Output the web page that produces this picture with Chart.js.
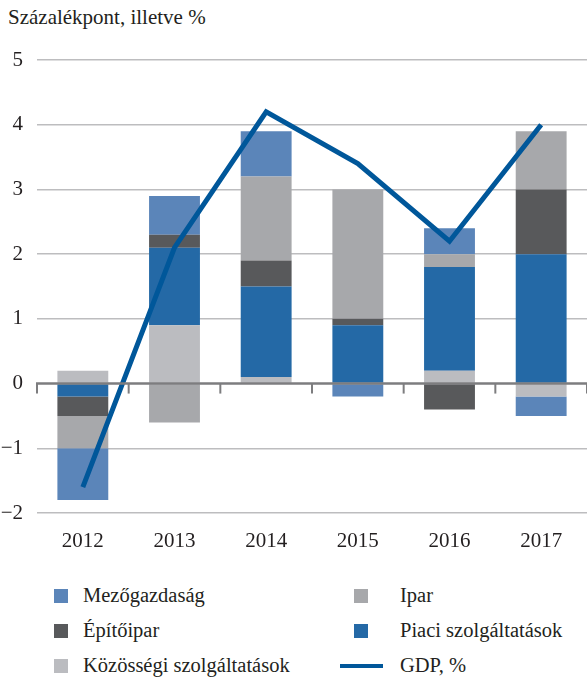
<!DOCTYPE html>
<html lang="hu">
<head>
<meta charset="utf-8">
<script src="https://cdn.jsdelivr.net/npm/chart.js@4/dist/chart.umd.min.js"></script>
<style>
  html, body { margin: 0; padding: 0; background: #fff; }
  body { width: 587px; height: 680px; position: relative; overflow: hidden;
         font-family: "Liberation Serif", "DejaVu Serif", serif; color: #231f20; }
  #title { position: absolute; left: 8px; top: 5px; font-size: 21px; white-space: nowrap; }
  #wrap { position: absolute; left: 0; top: 0; width: 587px; height: 560px; }
  .lg { position: absolute; font-size: 20.5px; white-space: nowrap; line-height: 22px; }
  .sw { position: absolute; width: 14px; height: 14px; }
  .ln { position: absolute; width: 43px; height: 4px; }
</style>
</head>
<body>
<div id="title">Százalékpont, illetve %</div>
<div id="wrap"><canvas id="c" width="587" height="560"></canvas></div>
<div id="legend"></div>
<script>
// Years on the category axis
const years = ['2012', '2013', '2014', '2015', '2016', '2017'];

// Contributions to GDP growth by sector, percentage points
const kozossegi = [0.2, 0.9, 0.1, 0.0, 0.2, -0.2];
const piaci     = [-0.2, 1.2, 1.4, 0.9, 1.6, 2.0];
const epitoipar = [-0.3, 0.2, 0.4, 0.1, -0.4, 1.0];
const ipar      = [-0.5, -0.6, 1.3, 2.0, 0.2, 0.9];
const mezogazd  = [-0.8, 0.6, 0.7, -0.2, 0.4, -0.3];

// GDP growth, %
const gdp = [-1.6, 2.1, 4.2, 3.4, 2.2, 4.0];

// Value axis ticks
const yTicks = [-2, -1, 0, 1, 2, 3, 4, 5];

const colors = {
  mezo: '#5b85b9',
  ipar: '#a7a8ab',
  epito: '#58595b',
  piaci: '#2469a6',
  kozos: '#bbbcc0',
  gdp: '#00579a'
};

const serif = 'Liberation Serif';

// Zero line with short tick marks between the years
const zeroAxis = {
  id: 'zeroAxis',
  afterDatasetsDraw(chart) {
    const { ctx, chartArea, scales } = chart;
    const y0 = scales.y.getPixelForValue(0);
    const x = scales.x;
    ctx.save();
    ctx.strokeStyle = '#7d7d7f';
    ctx.lineWidth = 2.5;
    ctx.beginPath();
    ctx.moveTo(chartArea.left - 1, y0);
    ctx.lineTo(chartArea.right, y0);
    ctx.stroke();
    ctx.lineWidth = 2;
    for (let i = 0; i <= years.length; i++) {
      let px;
      if (i === 0) px = chartArea.left;
      else if (i === years.length) px = chartArea.right;
      else px = (x.getPixelForValue(i - 1) + x.getPixelForValue(i)) / 2;
      ctx.beginPath();
      ctx.moveTo(px, y0);
      ctx.lineTo(px, y0 + 10);
      ctx.stroke();
    }
    ctx.restore();
  }
};

const barDefaults = { stack: 's', order: 2, borderWidth: 0 };

new Chart(document.getElementById('c'), {
  data: {
    labels: years,
    datasets: [
      { type: 'line', label: 'GDP, %', data: gdp, borderColor: colors.gdp,
        backgroundColor: colors.gdp, borderWidth: 5, pointRadius: 0, tension: 0,
        order: 0, borderCapStyle: 'butt', borderJoinStyle: 'miter' },
      { type: 'bar', label: 'Közösségi szolgáltatások', data: kozossegi, backgroundColor: colors.kozos, ...barDefaults },
      { type: 'bar', label: 'Piaci szolgáltatások', data: piaci, backgroundColor: colors.piaci, ...barDefaults },
      { type: 'bar', label: 'Építőipar', data: epitoipar, backgroundColor: colors.epito, ...barDefaults },
      { type: 'bar', label: 'Ipar', data: ipar, backgroundColor: colors.ipar, ...barDefaults },
      { type: 'bar', label: 'Mezőgazdaság', data: mezogazd, backgroundColor: colors.mezo, ...barDefaults }
    ]
  },
  options: {
    responsive: false,
    animation: false,
    layout: { padding: { top: 60, right: -4, bottom: 0, left: 0 } },
    datasets: { bar: { barPercentage: 0.555, categoryPercentage: 1.0 } },
    plugins: { legend: { display: false }, tooltip: { enabled: false }, title: { display: false } },
    scales: {
      x: {
        stacked: true,
        grid: { display: false, drawTicks: false },
        border: { display: false },
        ticks: { color: '#231f20', padding: 16, font: { family: serif, size: 21 } },
        afterFit(scale) { scale.height = 47; }
      },
      y: {
        stacked: true,
        min: -2, max: 5,
        afterBuildTicks(scale) { scale.ticks = yTicks.map(v => ({ value: v })); },
        grid: { color: ctx => ctx.tick && ctx.tick.value === 0 ? 'rgba(0,0,0,0)' : '#bdbdbf',
                lineWidth: 1.5, drawTicks: false },
        border: { display: false },
        ticks: {
          color: '#231f20', padding: 14,
          font: { family: serif, size: 21 },
          callback: v => (v < 0 ? '\u2212' + Math.abs(v) : String(v))
        },
        afterFit(scale) { scale.width = 37; }
      }
    }
  },
  plugins: [zeroAxis]
});

// Legend in two columns
const legendItems = [
  { label: 'Mezőgazdaság', color: colors.mezo, col: 0, row: 0 },
  { label: 'Építőipar', color: colors.epito, col: 0, row: 1 },
  { label: 'Közösségi szolgáltatások', color: colors.kozos, col: 0, row: 2 },
  { label: 'Ipar', color: colors.ipar, col: 1, row: 0 },
  { label: 'Piaci szolgáltatások', color: colors.piaci, col: 1, row: 1 },
  { label: 'GDP, %', color: colors.gdp, col: 1, row: 2, line: true }
];
const lg = document.getElementById('legend');
const colSwatch = [54, 354], colText = [83, 400], rowMid = [596, 631, 666];
legendItems.forEach(it => {
  const m = document.createElement('div');
  if (it.line) {
    m.className = 'ln';
    m.style.left = '340px';
    m.style.top = (rowMid[it.row] - 2) + 'px';
  } else {
    m.className = 'sw';
    m.style.left = colSwatch[it.col] + 'px';
    m.style.top = (rowMid[it.row] - 7) + 'px';
  }
  m.style.background = it.color;
  lg.appendChild(m);
  const t = document.createElement('div');
  t.className = 'lg';
  t.textContent = it.label;
  t.style.left = colText[it.col] + 'px';
  t.style.top = (rowMid[it.row] - 12) + 'px';
  lg.appendChild(t);
});
</script>
</body>
</html>
